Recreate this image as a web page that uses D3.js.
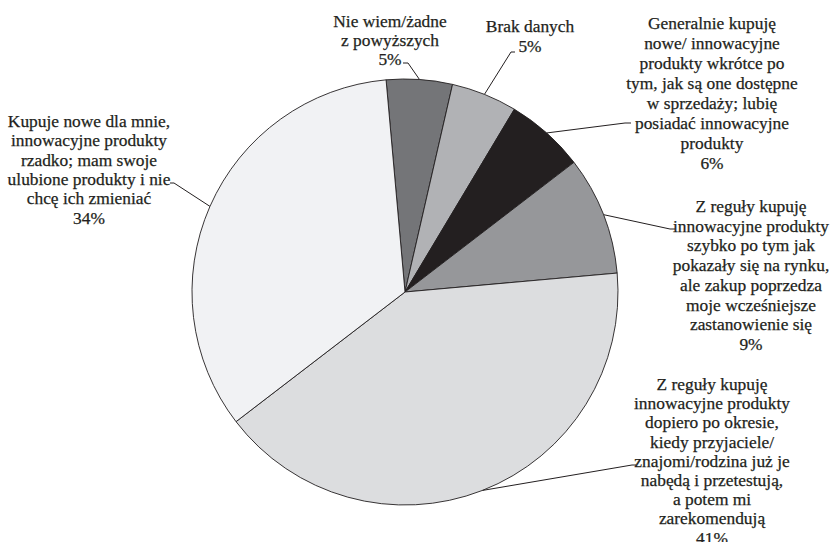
<!DOCTYPE html>
<html>
<head>
<meta charset="utf-8">
<script src="https://cdn.jsdelivr.net/npm/d3@7"></script>
<style>
  body { margin: 0; background: #fff; }
  svg text { font-family: "Liberation Serif", "Times New Roman", serif; font-size: 17.4px; fill: #231f20; stroke: #231f20; stroke-width: 0.25px; }
</style>
</head>
<body>
<svg id="chart1" width="830" height="542"></svg>
<script>
// dane
var categories = [
  ["Nie wiem/żadne", "z powyższych"],
  ["Brak danych"],
  ["Generalnie kupuję", "nowe/ innowacyjne", "produkty wkrótce po", "tym, jak są one dostępne", "w sprzedaży; lubię", "posiadać innowacyjne", "produkty"],
  ["Z reguły kupuję", "innowacyjne produkty", "szybko po tym jak", "pokazały się na rynku,", "ale zakup poprzedza", "moje wcześniejsze", "zastanowienie się"],
  ["Z reguły kupuję", "innowacyjne produkty", "dopiero po okresie,", "kiedy przyjaciele/", "znajomi/rodzina już je", "nabędą i przetestują,", "a potem mi", "zarekomendują"],
  ["Kupuje nowe dla mnie,", "innowacyjne produkty", "rzadko; mam swoje", "ulubione produkty i nie", "chcę ich zmieniać"]
];
var values = [5, 5, 6, 9, 41, 34];
var percentLabels = ["5%", "5%", "6%", "9%", "41%", "34%"];

// wygląd
var colors = ["#747578", "#b1b2b5", "#231f20", "#96979a", "#dcdddf", "#f1f2f4"];
var cx = 405, cy = 292, r = 213;
var startAngle = -5.1 * Math.PI / 180;

// pozycje etykiet: środek tekstu, pierwsza linia bazowa, odstęp, łamanie linii i koniec
var labelPos = [
  {x: 390, y: 27, lh: 19, elbow: [408, 63], end: [403, 63]},
  {x: 530, y: 32, lh: 20, elbow: [511, 52], end: [515, 52]},
  {x: 712, y: 29, lh: 20, elbow: [625, 123], end: [631, 123]},
  {x: 751, y: 212, lh: 19.7, elbow: [670, 229], end: [675, 229]},
  {x: 712, y: 390, lh: 19.2, elbow: [632, 465], end: [636, 465]},
  {x: 89, y: 127, lh: 19.3, elbow: [174, 183], end: [170, 183]}
];

var svg = d3.select("svg#chart1");
var g = svg.append("g").attr("transform", "translate(" + cx + "," + cy + ")");

var pie = d3.pie().sort(null).value(d => d)
  .startAngle(startAngle).endAngle(startAngle + 2 * Math.PI);
var arcs = pie(values);

var arc = d3.arc().innerRadius(0).outerRadius(r);
var edge = d3.arc().innerRadius(r).outerRadius(r);

g.selectAll("path.slice").data(arcs).enter()
  .append("path")
  .attr("class", "slice")
  .attr("d", arc)
  .attr("fill", (d, i) => colors[i])
  .attr("stroke", "#231f20")
  .attr("stroke-width", 0.9)
  .attr("stroke-linejoin", "round");

// linie odniesienia
svg.selectAll("polyline.leader").data(arcs).enter()
  .append("polyline")
  .attr("class", "leader")
  .attr("fill", "none")
  .attr("stroke", "#231f20")
  .attr("stroke-width", 1)
  .attr("points", (d, i) => {
    var c = edge.centroid(d);
    var p = labelPos[i];
    return [[c[0] + cx, c[1] + cy], p.elbow, p.end].map(q => q.join(",")).join(" ");
  });

// etykiety
var labels = svg.selectAll("text.label").data(arcs).enter()
  .append("text")
  .attr("class", "label")
  .attr("text-anchor", "middle");

labels.each(function(d, i) {
  var t = d3.select(this);
  var lines = categories[i].concat([percentLabels[i]]);
  lines.forEach((s, j) => {
    t.append("tspan")
      .attr("x", labelPos[i].x)
      .attr("y", labelPos[i].y + j * labelPos[i].lh)
      .text(s);
  });
});
</script>
</body>
</html>
